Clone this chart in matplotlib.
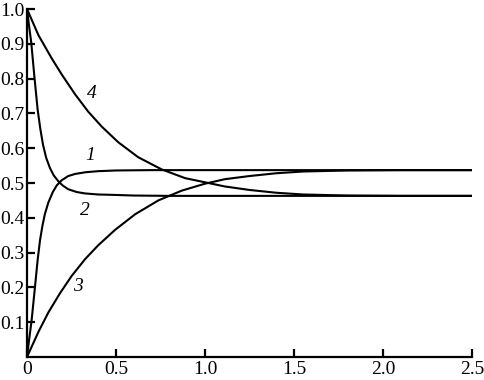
import matplotlib
matplotlib.use("Agg")
import matplotlib.pyplot as plt

# Curve 1: fast rise
x1 = [0, 0.012, 0.026, 0.045, 0.06, 0.073, 0.086, 0.1, 0.12, 0.145, 0.167, 0.195, 0.232, 0.27, 0.33, 0.40, 0.5, 0.7, 1.0, 1.5, 2.0, 2.5]
y1 = [0, 0.05, 0.106, 0.202, 0.280, 0.335, 0.375, 0.410, 0.444, 0.474, 0.493, 0.508, 0.520, 0.526, 0.531, 0.534, 0.536, 0.537, 0.537, 0.537, 0.537, 0.537]
# Curve 2: fast fall
x2 = [0, 0.012, 0.024, 0.042, 0.06, 0.075, 0.09, 0.108, 0.129, 0.15, 0.176, 0.2, 0.232, 0.28, 0.326, 0.40, 0.476, 0.6, 0.8, 1.0, 1.5, 2.0, 2.5]
y2 = [1.0, 0.95, 0.903, 0.803, 0.710, 0.655, 0.610, 0.572, 0.543, 0.522, 0.505, 0.493, 0.482, 0.474, 0.470, 0.467, 0.466, 0.464, 0.463, 0.463, 0.463, 0.463, 0.463]
# Curve 3: slow rise
x3 = [0, 0.064, 0.12, 0.185, 0.251, 0.326, 0.40, 0.494, 0.607, 0.738, 0.869, 1.0, 1.112, 1.25, 1.4, 1.55, 1.8, 2.1, 2.5]
y3 = [0, 0.072, 0.128, 0.183, 0.233, 0.281, 0.321, 0.365, 0.410, 0.450, 0.478, 0.498, 0.511, 0.520, 0.528, 0.533, 0.536, 0.537, 0.537]
# Curve 4: slow fall
x4 = [0, 0.064, 0.139, 0.195, 0.270, 0.344, 0.42, 0.513, 0.625, 0.757, 0.888, 1.0, 1.112, 1.25, 1.4, 1.55, 1.8, 2.1, 2.5]
y4 = [1.0, 0.925, 0.858, 0.812, 0.755, 0.705, 0.662, 0.617, 0.574, 0.539, 0.514, 0.502, 0.490, 0.480, 0.472, 0.467, 0.464, 0.463, 0.463]

curves = [(x1, y1), (x2, y2), (x3, y3), (x4, y4)]
labels = ["1", "2", "3", "4"]
label_pos = [(0.354, 0.578), (0.326, 0.422), (0.288, 0.202), (0.363, 0.756)]

xticks = [0, 0.5, 1.0, 1.5, 2.0, 2.5]
xticklabels = ["0", "0.5", "1.0", "1.5", "2.0", "2.5"]
yticks = [0.1, 0.2, 0.3, 0.4, 0.5, 0.6, 0.7, 0.8, 0.9, 1.0]
yticklabels = ["0.1", "0.2", "0.3", "0.4", "0.5", "0.6", "0.7", "0.8", "0.9", "1.0"]

plt.rcParams['font.family'] = ['Liberation Serif', 'DejaVu Serif']

fig = plt.figure(figsize=(4.84, 3.80), dpi=100)
ax = fig.add_axes([27/484, 23/380, 445/484, 348/380])

for (x, y) in curves:
    ax.plot(x, y, color='black', lw=1.5, solid_joinstyle='round')

for lab, (lx, ly) in zip(labels, label_pos):
    ax.text(lx, ly, lab, fontsize=14, style='italic', ha='center', va='center')

ax.set_xlim(0, 2.5)
ax.set_ylim(0, 1.0)
ax.set_xticks(xticks)
ax.set_xticklabels(xticklabels)
ax.set_yticks(yticks)
ax.set_yticklabels(yticklabels)
ax.spines['top'].set_visible(False)
ax.spines['right'].set_visible(False)
ax.spines['left'].set_linewidth(1.6)
ax.spines['bottom'].set_linewidth(1.6)
ax.tick_params(direction='in', length=6, width=1.6, labelsize=14)
ax.tick_params(axis='x', pad=3)
ax.tick_params(axis='y', pad=2)
ax.patch.set_alpha(0)

fig.savefig("out.png", dpi=100)
